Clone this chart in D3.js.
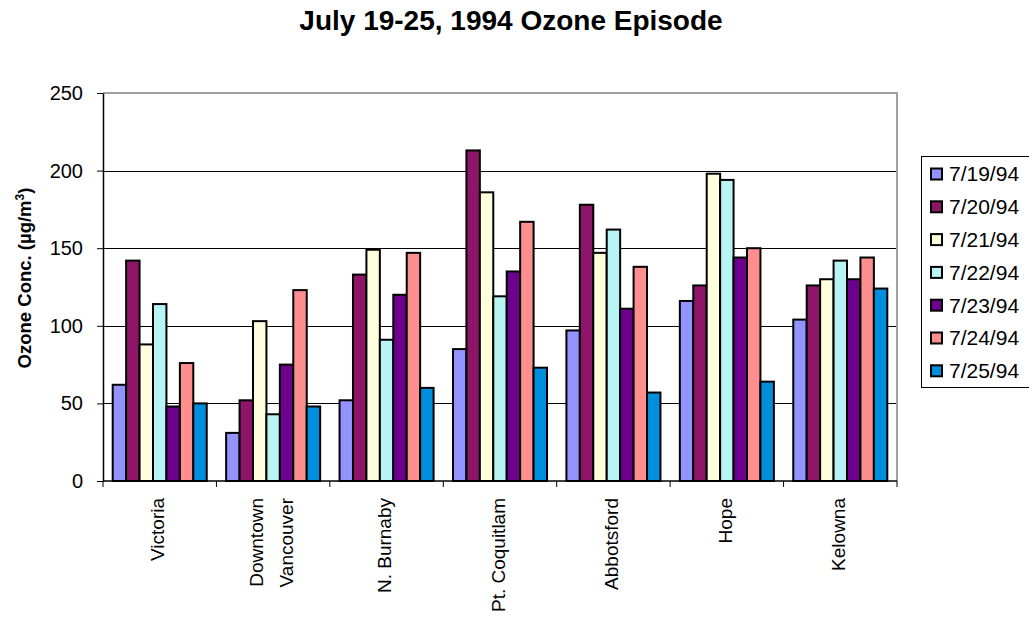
<!DOCTYPE html>
<html>
<head>
<meta charset="utf-8">
<script src="https://cdn.jsdelivr.net/npm/d3@7"></script>
<style>
  body { margin: 0; background: #fff; }
  svg { font-family: Arial, "Liberation Sans", sans-serif; }
</style>
</head>
<body>
<div id="chart"></div>
<script>
// ozone episode bar chart

const sites = ["Victoria", "Downtown Vancouver", "N. Burnaby", "Pt. Coquitlam", "Abbotsford", "Hope", "Kelowna"];
const days = ["7/19/94", "7/20/94", "7/21/94", "7/22/94", "7/23/94", "7/24/94", "7/25/94"];
const dayColors = ["#9393FF", "#8E1568", "#FFFFDD", "#B8F4F4", "#6E008E", "#FF8E8E", "#008FDD"];

// one array per day, in site order
const d0719 = [62, 31, 52, 85, 97, 116, 104];
const d0720 = [142, 52, 133, 213, 178, 126, 126];
const d0721 = [88, 103, 149, 186, 147, 198, 130];
const d0722 = [114, 43, 91, 119, 162, 194, 142];
const d0723 = [48, 75, 120, 135, 111, 144, 130];
const d0724 = [76, 123, 147, 167, 138, 150, 144];
const d0725 = [50, 48, 60, 73, 57, 64, 124];
const series = [d0719, d0720, d0721, d0722, d0723, d0724, d0725];

const yTicks = [0, 50, 100, 150, 200, 250];

const W = 1029, H = 620;
const margin = { top: 93, right: 132, bottom: 139, left: 103 };

const svg = d3.select("#chart").append("svg")
  .attr("width", W)
  .attr("height", H);

const x0 = d3.scaleBand()
  .domain(sites)
  .range([margin.left, W - margin.right])
  .paddingInner(0.171)
  .paddingOuter(0.0855);

const x1 = d3.scaleBand()
  .domain(days)
  .range([0, x0.bandwidth()]);

const y = d3.scaleLinear()
  .domain([0, 250])
  .range([H - margin.bottom, margin.top]);

// title
svg.append("text")
  .attr("x", 511)
  .attr("y", 30)
  .attr("text-anchor", "middle")
  .attr("font-size", "28px")
  .attr("font-weight", "bold")
  .text("July 19-25, 1994 Ozone Episode");

// gridlines
svg.append("g")
  .selectAll("line")
  .data(yTicks.filter(t => t > 0 && t < 250))
  .enter()
  .append("line")
  .attr("x1", margin.left)
  .attr("x2", W - margin.right)
  .attr("y1", d => Math.round(y(d)) + 0.5)
  .attr("y2", d => Math.round(y(d)) + 0.5)
  .attr("stroke", "#000")
  .attr("stroke-width", 1);

// plot border top/right
svg.append("path")
  .attr("d", `M${margin.left},${margin.top}H${W - margin.right}V${H - margin.bottom}`)
  .attr("fill", "none")
  .attr("stroke", "#a0a0a0")
  .attr("stroke-width", 2);

// bars
const groups = svg.append("g")
  .selectAll("g")
  .data(sites)
  .enter()
  .append("g")
  .attr("transform", d => `translate(${x0(d)},0)`);

groups.selectAll("rect")
  .data((s, i) => days.map((day, j) => ({ day, j, v: series[j][i] })))
  .enter()
  .append("rect")
  .attr("x", d => x1(d.day))
  .attr("y", d => y(d.v))
  .attr("width", x1.bandwidth())
  .attr("height", d => y(0) - y(d.v))
  .attr("fill", d => dayColors[d.j])
  .attr("stroke", "#000")
  .attr("stroke-width", 2);

// y axis
const yAxis = svg.append("g")
  .attr("transform", `translate(${margin.left},0)`)
  .call(d3.axisLeft(y).tickValues(yTicks).tickSize(6).tickPadding(14).tickSizeOuter(0));
yAxis.select(".domain").attr("stroke", "#000").attr("stroke-width", 1.5);
yAxis.selectAll(".tick line").attr("stroke", "#000");
yAxis.selectAll("text")
  .attr("font-size", "20px")
  .attr("fill", "#000")
  .attr("font-family", "Arial, 'Liberation Sans', sans-serif");

// y label
svg.append("text")
  .attr("transform", "translate(31,278) rotate(-90)")
  .attr("text-anchor", "middle")
  .attr("font-size", "18.5px")
  .attr("font-weight", "bold")
  .call(t => {
    t.append("tspan").text("Ozone Conc. (µg/m");
    t.append("tspan").attr("font-size", "12px").attr("dy", "-0.6em").text("3");
    t.append("tspan").attr("dy", "0.4em").text(")");
  });

// x axis with ticks at category boundaries
const xAxisG = svg.append("g")
  .attr("transform", `translate(0,${y(0)})`);
xAxisG.append("line")
  .attr("x1", margin.left)
  .attr("x2", W - margin.right)
  .attr("stroke", "#000")
  .attr("stroke-width", 1.5);

const step = x0.step();
const bounds = d3.range(sites.length + 1).map(i => margin.left + i * step);
xAxisG.selectAll(".bt")
  .data(bounds)
  .enter()
  .append("line")
  .attr("x1", d => d)
  .attr("x2", d => d)
  .attr("y1", 0)
  .attr("y2", 6)
  .attr("stroke", "#000");

// category labels, rotated
const labelTop = y(0) + 17;
xAxisG.selectAll(".cl")
  .data(sites)
  .enter()
  .append("text")
  .attr("font-size", "19px")
  .attr("text-anchor", "end")
  .each(function (d) {
    const cx = x0(d) + x0.bandwidth() / 2 - 2;
    const lines = d === "Downtown Vancouver" ? ["Downtown", "Vancouver"] : [d];
    const t = d3.select(this)
      .attr("transform", `translate(${cx},${labelTop - y(0)}) rotate(-90)`);
    lines.forEach((ln, k) => {
      const off = lines.length === 1 ? 0 : (k === 0 ? -15 : 15);
      t.append("tspan")
        .attr("x", 0)
        .attr("y", off)
        .attr("dy", "0.35em")
        .text(ln);
    });
  });

// legend
const legend = svg.append("g");
legend.append("rect")
  .attr("x", 921.5)
  .attr("y", 156.5)
  .attr("width", 120)
  .attr("height", 231)
  .attr("fill", "#fff")
  .attr("stroke", "#000")
  .attr("stroke-width", 1);

const leg = legend.selectAll(".li")
  .data(days)
  .enter()
  .append("g")
  .attr("transform", (d, i) => `translate(931,${174 + i * 32.8})`);

leg.append("rect")
  .attr("x", 0)
  .attr("y", -5.5)
  .attr("width", 11)
  .attr("height", 11)
  .attr("fill", (d, i) => dayColors[i])
  .attr("stroke", "#000")
  .attr("stroke-width", 2);

leg.append("text")
  .attr("x", 18)
  .attr("dy", "0.35em")
  .attr("font-size", "21px")
  .text(d => d);
</script>
</body>
</html>
